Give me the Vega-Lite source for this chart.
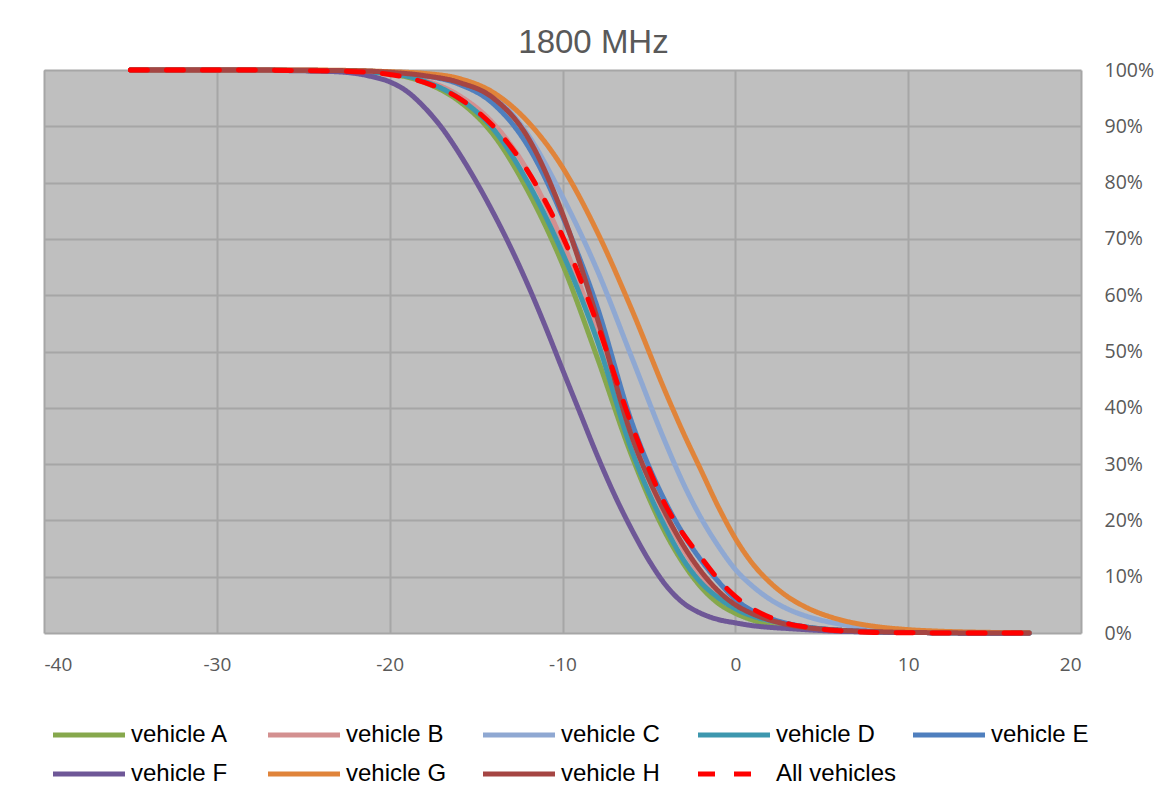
{
  "$schema": "https://vega.github.io/schema/vega-lite/v6.json",
  "width": 1037,
  "height": 563,
  "autosize": "none",
  "padding": {"left": 44, "top": 70, "right": 82, "bottom": 158},
  "background": "white",
  "title": {"text": "1800 MHz", "font": "Liberation Sans", "fontSize": 33, "fontWeight": "normal", "color": "#595959", "offset": 0, "dx": 31},
  "config": {
    "view": {"fill": "#BFBFBF", "stroke": null},
    "font": "Open Sans"
  },
  "datasets": {
    "curves": [
      {"v":"vehicle A","x":-35,"p":100},{"v":"vehicle A","x":-30,"p":100},{"v":"vehicle A","x":-25,"p":99.9},{"v":"vehicle A","x":-22,"p":99.7},{"v":"vehicle A","x":-20,"p":99.3},{"v":"vehicle A","x":-18,"p":97.8},{"v":"vehicle A","x":-16,"p":94.5},{"v":"vehicle A","x":-14,"p":88.5},{"v":"vehicle A","x":-12,"p":78.5},{"v":"vehicle A","x":-10,"p":65.5},{"v":"vehicle A","x":-8,"p":49},{"v":"vehicle A","x":-6,"p":31.5},{"v":"vehicle A","x":-4,"p":17.5},{"v":"vehicle A","x":-3,"p":12.3},{"v":"vehicle A","x":-2,"p":8.2},{"v":"vehicle A","x":-1,"p":5.3},{"v":"vehicle A","x":0,"p":3.5},{"v":"vehicle A","x":1,"p":2.3},{"v":"vehicle A","x":2,"p":1.5},{"v":"vehicle A","x":3,"p":1.1},{"v":"vehicle A","x":4,"p":0.8},{"v":"vehicle A","x":6,"p":0.4},{"v":"vehicle A","x":8,"p":0.2},{"v":"vehicle A","x":10,"p":0.1},{"v":"vehicle A","x":12,"p":0.05},{"v":"vehicle A","x":14,"p":0},{"v":"vehicle A","x":17,"p":0},
      {"v":"vehicle B","x":-35,"p":100},{"v":"vehicle B","x":-30,"p":100},{"v":"vehicle B","x":-25,"p":99.9},{"v":"vehicle B","x":-22,"p":99.7},{"v":"vehicle B","x":-20,"p":99.4},{"v":"vehicle B","x":-18,"p":98.2},{"v":"vehicle B","x":-16,"p":95.5},{"v":"vehicle B","x":-14,"p":90.5},{"v":"vehicle B","x":-12,"p":82},{"v":"vehicle B","x":-10,"p":69.5},{"v":"vehicle B","x":-8,"p":53.5},{"v":"vehicle B","x":-6,"p":35},{"v":"vehicle B","x":-4,"p":20.5},{"v":"vehicle B","x":-3,"p":14.8},{"v":"vehicle B","x":-2,"p":10.3},{"v":"vehicle B","x":-1,"p":7},{"v":"vehicle B","x":0,"p":4.7},{"v":"vehicle B","x":1,"p":3.2},{"v":"vehicle B","x":2,"p":2.2},{"v":"vehicle B","x":3,"p":1.6},{"v":"vehicle B","x":4,"p":1.1},{"v":"vehicle B","x":6,"p":0.5},{"v":"vehicle B","x":8,"p":0.25},{"v":"vehicle B","x":10,"p":0.1},{"v":"vehicle B","x":12,"p":0.05},{"v":"vehicle B","x":14,"p":0},{"v":"vehicle B","x":17,"p":0},
      {"v":"vehicle C","x":-35,"p":100},{"v":"vehicle C","x":-30,"p":100},{"v":"vehicle C","x":-25,"p":99.9},{"v":"vehicle C","x":-22,"p":99.8},{"v":"vehicle C","x":-20,"p":99.7},{"v":"vehicle C","x":-18,"p":99.3},{"v":"vehicle C","x":-16,"p":98.3},{"v":"vehicle C","x":-14,"p":95.5},{"v":"vehicle C","x":-12,"p":88.5},{"v":"vehicle C","x":-10,"p":77.5},{"v":"vehicle C","x":-8,"p":64.5},{"v":"vehicle C","x":-6,"p":49},{"v":"vehicle C","x":-4,"p":33.5},{"v":"vehicle C","x":-3,"p":26.5},{"v":"vehicle C","x":-2,"p":20.5},{"v":"vehicle C","x":-1,"p":15.5},{"v":"vehicle C","x":0,"p":11.3},{"v":"vehicle C","x":1,"p":8.3},{"v":"vehicle C","x":2,"p":6},{"v":"vehicle C","x":3,"p":4.3},{"v":"vehicle C","x":4,"p":3.1},{"v":"vehicle C","x":6,"p":1.6},{"v":"vehicle C","x":8,"p":0.8},{"v":"vehicle C","x":10,"p":0.4},{"v":"vehicle C","x":12,"p":0.2},{"v":"vehicle C","x":14,"p":0.1},{"v":"vehicle C","x":17,"p":0},
      {"v":"vehicle D","x":-35,"p":100},{"v":"vehicle D","x":-30,"p":100},{"v":"vehicle D","x":-25,"p":99.9},{"v":"vehicle D","x":-22,"p":99.7},{"v":"vehicle D","x":-20,"p":99.4},{"v":"vehicle D","x":-18,"p":98},{"v":"vehicle D","x":-16,"p":95},{"v":"vehicle D","x":-14,"p":89.5},{"v":"vehicle D","x":-12,"p":80},{"v":"vehicle D","x":-10,"p":67.5},{"v":"vehicle D","x":-8,"p":52},{"v":"vehicle D","x":-6,"p":32.5},{"v":"vehicle D","x":-4,"p":18.5},{"v":"vehicle D","x":-3,"p":13},{"v":"vehicle D","x":-2,"p":9},{"v":"vehicle D","x":-1,"p":6.3},{"v":"vehicle D","x":0,"p":4.3},{"v":"vehicle D","x":1,"p":3},{"v":"vehicle D","x":2,"p":2.2},{"v":"vehicle D","x":3,"p":1.6},{"v":"vehicle D","x":4,"p":1.1},{"v":"vehicle D","x":6,"p":0.5},{"v":"vehicle D","x":8,"p":0.2},{"v":"vehicle D","x":10,"p":0.1},{"v":"vehicle D","x":12,"p":0.05},{"v":"vehicle D","x":14,"p":0},{"v":"vehicle D","x":17,"p":0},
      {"v":"vehicle E","x":-35,"p":100},{"v":"vehicle E","x":-30,"p":100},{"v":"vehicle E","x":-25,"p":99.95},{"v":"vehicle E","x":-22,"p":99.85},{"v":"vehicle E","x":-20,"p":99.6},{"v":"vehicle E","x":-18,"p":99},{"v":"vehicle E","x":-16,"p":97.5},{"v":"vehicle E","x":-14,"p":94},{"v":"vehicle E","x":-12,"p":86.5},{"v":"vehicle E","x":-10,"p":74},{"v":"vehicle E","x":-8,"p":58},{"v":"vehicle E","x":-6,"p":37.5},{"v":"vehicle E","x":-4,"p":23},{"v":"vehicle E","x":-3,"p":17.5},{"v":"vehicle E","x":-2,"p":13},{"v":"vehicle E","x":-1,"p":9.2},{"v":"vehicle E","x":0,"p":6},{"v":"vehicle E","x":1,"p":3.9},{"v":"vehicle E","x":2,"p":2.6},{"v":"vehicle E","x":3,"p":1.7},{"v":"vehicle E","x":4,"p":1.1},{"v":"vehicle E","x":6,"p":0.5},{"v":"vehicle E","x":8,"p":0.25},{"v":"vehicle E","x":10,"p":0.1},{"v":"vehicle E","x":12,"p":0.05},{"v":"vehicle E","x":14,"p":0},{"v":"vehicle E","x":17,"p":0},
      {"v":"vehicle F","x":-35,"p":100},{"v":"vehicle F","x":-30,"p":100},{"v":"vehicle F","x":-25,"p":99.85},{"v":"vehicle F","x":-24,"p":99.8},{"v":"vehicle F","x":-22,"p":99.4},{"v":"vehicle F","x":-21,"p":98.8},{"v":"vehicle F","x":-20,"p":97.9},{"v":"vehicle F","x":-19,"p":96.2},{"v":"vehicle F","x":-18,"p":93.4},{"v":"vehicle F","x":-17,"p":89.8},{"v":"vehicle F","x":-16,"p":85.3},{"v":"vehicle F","x":-15,"p":80.2},{"v":"vehicle F","x":-14,"p":74.6},{"v":"vehicle F","x":-13,"p":68.5},{"v":"vehicle F","x":-12,"p":61.8},{"v":"vehicle F","x":-11,"p":54.5},{"v":"vehicle F","x":-10,"p":46.8},{"v":"vehicle F","x":-9,"p":39.2},{"v":"vehicle F","x":-8,"p":31.6},{"v":"vehicle F","x":-7,"p":24.6},{"v":"vehicle F","x":-6,"p":18.4},{"v":"vehicle F","x":-5,"p":12.9},{"v":"vehicle F","x":-4,"p":8.4},{"v":"vehicle F","x":-3,"p":5.3},{"v":"vehicle F","x":-2,"p":3.5},{"v":"vehicle F","x":-1,"p":2.4},{"v":"vehicle F","x":0,"p":1.8},{"v":"vehicle F","x":1,"p":1.3},{"v":"vehicle F","x":2,"p":1},{"v":"vehicle F","x":3,"p":0.8},{"v":"vehicle F","x":4,"p":0.6},{"v":"vehicle F","x":6,"p":0.3},{"v":"vehicle F","x":8,"p":0.2},{"v":"vehicle F","x":10,"p":0.1},{"v":"vehicle F","x":12,"p":0.05},{"v":"vehicle F","x":14,"p":0},{"v":"vehicle F","x":17,"p":0},
      {"v":"vehicle G","x":-35,"p":100},{"v":"vehicle G","x":-30,"p":100},{"v":"vehicle G","x":-25,"p":100},{"v":"vehicle G","x":-22,"p":99.9},{"v":"vehicle G","x":-20,"p":99.7},{"v":"vehicle G","x":-18,"p":99.4},{"v":"vehicle G","x":-16,"p":98.5},{"v":"vehicle G","x":-14,"p":96},{"v":"vehicle G","x":-12,"p":90.8},{"v":"vehicle G","x":-10,"p":82.7},{"v":"vehicle G","x":-8,"p":71.3},{"v":"vehicle G","x":-6,"p":57.5},{"v":"vehicle G","x":-4,"p":42.5},{"v":"vehicle G","x":-3,"p":35.5},{"v":"vehicle G","x":-2,"p":29},{"v":"vehicle G","x":-1,"p":22.5},{"v":"vehicle G","x":0,"p":16.8},{"v":"vehicle G","x":1,"p":12.3},{"v":"vehicle G","x":2,"p":9},{"v":"vehicle G","x":3,"p":6.5},{"v":"vehicle G","x":4,"p":4.7},{"v":"vehicle G","x":6,"p":2.4},{"v":"vehicle G","x":8,"p":1.2},{"v":"vehicle G","x":10,"p":0.6},{"v":"vehicle G","x":12,"p":0.3},{"v":"vehicle G","x":14,"p":0.15},{"v":"vehicle G","x":17,"p":0.05},
      {"v":"vehicle H","x":-35,"p":100},{"v":"vehicle H","x":-30,"p":100},{"v":"vehicle H","x":-25,"p":99.95},{"v":"vehicle H","x":-22,"p":99.85},{"v":"vehicle H","x":-20,"p":99.6},{"v":"vehicle H","x":-18,"p":99},{"v":"vehicle H","x":-16,"p":97.8},{"v":"vehicle H","x":-14,"p":95},{"v":"vehicle H","x":-12,"p":88},{"v":"vehicle H","x":-10,"p":74.5},{"v":"vehicle H","x":-8,"p":56},{"v":"vehicle H","x":-6,"p":35},{"v":"vehicle H","x":-4,"p":21},{"v":"vehicle H","x":-3,"p":15.5},{"v":"vehicle H","x":-2,"p":11},{"v":"vehicle H","x":-1,"p":7.5},{"v":"vehicle H","x":0,"p":5},{"v":"vehicle H","x":1,"p":3.4},{"v":"vehicle H","x":2,"p":2.3},{"v":"vehicle H","x":3,"p":1.5},{"v":"vehicle H","x":4,"p":1},{"v":"vehicle H","x":6,"p":0.5},{"v":"vehicle H","x":8,"p":0.25},{"v":"vehicle H","x":10,"p":0.1},{"v":"vehicle H","x":12,"p":0.05},{"v":"vehicle H","x":14,"p":0},{"v":"vehicle H","x":17,"p":0},
      {"v":"All vehicles","x":-35,"p":100},{"v":"All vehicles","x":-30,"p":100},{"v":"All vehicles","x":-25,"p":99.9},{"v":"All vehicles","x":-22,"p":99.7},{"v":"All vehicles","x":-20,"p":99.2},{"v":"All vehicles","x":-18,"p":97.8},{"v":"All vehicles","x":-16,"p":95},{"v":"All vehicles","x":-14,"p":90},{"v":"All vehicles","x":-12,"p":82},{"v":"All vehicles","x":-10,"p":70.5},{"v":"All vehicles","x":-8,"p":55},{"v":"All vehicles","x":-6,"p":37},{"v":"All vehicles","x":-4,"p":22.5},{"v":"All vehicles","x":-3,"p":17.5},{"v":"All vehicles","x":-2,"p":13.5},{"v":"All vehicles","x":-1,"p":9.6},{"v":"All vehicles","x":0,"p":6.5},{"v":"All vehicles","x":1,"p":4.3},{"v":"All vehicles","x":2,"p":2.8},{"v":"All vehicles","x":3,"p":1.7},{"v":"All vehicles","x":4,"p":1.1},{"v":"All vehicles","x":6,"p":0.4},{"v":"All vehicles","x":8,"p":0.1},{"v":"All vehicles","x":10,"p":0.05},{"v":"All vehicles","x":12,"p":0},{"v":"All vehicles","x":14,"p":0},{"v":"All vehicles","x":17,"p":0}
    ]
  },
  "data": {"name": "curves"},
  "encoding": {
    "x": {"field": "x", "type": "quantitative", "scale": {"domain": [-40, 20], "nice": false, "zero": false},
      "axis": {"title": null, "values": [-40,-30,-20,-10,0,10,20], "labelExpr": "datum.value < 0 ? '-' + abs(datum.value) : '' + datum.value", "domain": false, "ticks": false, "grid": true, "gridColor": "#A6A6A6", "gridWidth": 2, "labelColor": "#595959", "labelFontSize": 19, "labelPadding": 22, "labelFont": "Open Sans"}},
    "y": {"field": "p", "type": "quantitative", "scale": {"domain": [0, 100], "nice": false},
      "axis": {"orient": "right", "title": null, "values": [0,10,20,30,40,50,60,70,80,90,100], "labelExpr": "datum.value + '%'", "domain": false, "ticks": false, "grid": true, "gridColor": "#A6A6A6", "gridWidth": 2, "labelColor": "#595959", "labelFontSize": 19.5, "labelPadding": 23, "labelFont": "Open Sans"}},
    "color": {"field": "v", "type": "nominal",
      "scale": {"domain": ["vehicle A","vehicle B","vehicle C","vehicle D","vehicle E","vehicle F","vehicle G","vehicle H","All vehicles"],
        "range": ["#86A84C","#D39090","#8FA8D2","#3D97AE","#4F7FBE","#6E5797","#E0843A","#A54543","#FF0000"]},
      "legend": {"title": null, "orient": "none", "legendX": 33, "legendY": 653, "direction": "horizontal", "columns": 5, "gridAlign": "all", "columnPadding": 6, "rowPadding": 15, "symbolType": "M-6,0H6", "symbolSize": 144, "symbolStrokeWidth": 5, "labelFontSize": 24, "labelFont": "Liberation Sans", "labelColor": "#000000", "labelOffset": 30, "labelLimit": 220}},
    "strokeDash": {"field": "v", "type": "nominal",
      "scale": {"domain": ["vehicle A","vehicle B","vehicle C","vehicle D","vehicle E","vehicle F","vehicle G","vehicle H","All vehicles"],
        "range": [[1,0],[1,0],[1,0],[1,0],[1,0],[1,0],[1,0],[1,0],[17,19]]},
      "legend": null}
  },
  "layer": [
    {"transform": [{"filter": "datum.v != 'All vehicles'"}],
     "mark": {"type": "line", "interpolate": "monotone", "strokeWidth": 5, "strokeCap": "round", "strokeJoin": "round"}},
    {"transform": [{"filter": "datum.v == 'All vehicles'"}],
     "mark": {"type": "line", "interpolate": "monotone", "strokeWidth": 5, "strokeCap": "round", "strokeJoin": "round"}}
  ]
}
